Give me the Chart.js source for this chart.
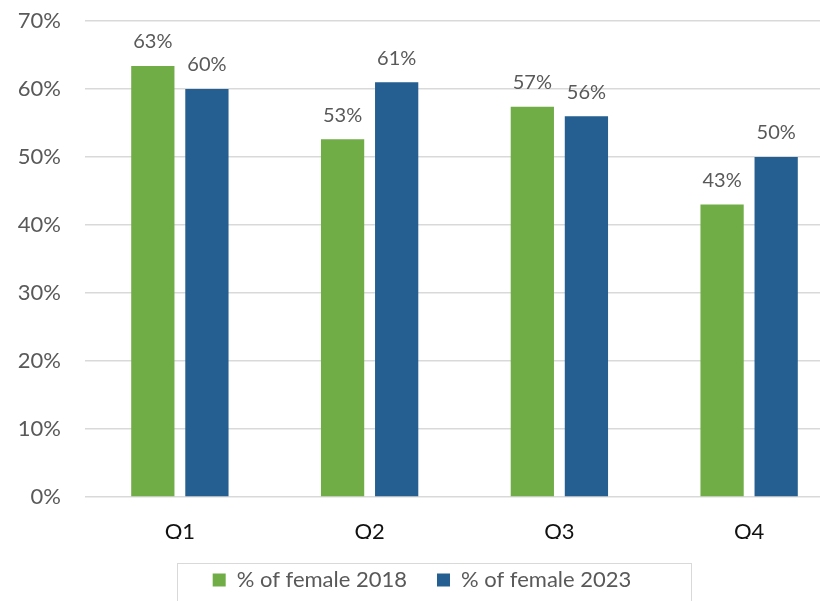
<!DOCTYPE html>
<html>
<head>
<meta charset="utf-8">
<script src="https://cdn.jsdelivr.net/npm/chart.js@4/dist/chart.umd.min.js"></script>
<style>
  html, body { margin: 0; padding: 0; background: #fff; overflow: hidden; }
  /* the original plot runs past the right edge of the picture */
  #wrap { width: 820px; height: 601px; overflow: hidden; }
</style>
</head>
<body>
<div id="wrap"><canvas id="chart" width="860" height="601"></canvas></div>
<script>
// data
const quarters = ["Q1", "Q2", "Q3", "Q4"];
const female2018 = [63.4, 52.6, 57.4, 43];
const female2023 = [60, 61, 56, 50];
const yTicks = [0, 10, 20, 30, 40, 50, 60, 70];

const TEXT = "#595959";
const FONT = "Lato, 'Open Sans', sans-serif";

// labels above each bar
const barLabels = {
    id: "barLabels",
    afterDatasetsDraw(chart){
        const ctx = chart.ctx;
        ctx.save();
        ctx.font = "20px " + FONT;
        ctx.fillStyle = TEXT;
        ctx.textAlign = "center";
        ctx.textBaseline = "middle";
        chart.data.datasets.forEach((ds, i) => {
            chart.getDatasetMeta(i).data.forEach((el, j) => {
                ctx.fillText(Math.round(ds.data[j]) + "%", el.x, el.y - 24);
            });
        });
        ctx.restore();
    }
};

// thin frame round the legend
const legendFrame = {
    id: "legendFrame",
    afterDraw(chart){
        const boxes = chart.legend.legendHitBoxes;
        if(!boxes || !boxes.length) return;
        const first = boxes[0], last = boxes[boxes.length - 1];
        const ctx = chart.ctx;
        ctx.save();
        ctx.strokeStyle = "#d9d9d9";
        ctx.lineWidth = 1;
        const left = Math.round(first.left - 36), right = Math.round(last.left + last.width + 60);
        ctx.strokeRect(left + 0.5, 563.5, right - left, 80);
        ctx.restore();
    }
};

new Chart(document.getElementById("chart"), {
    type: "bar",
    data: {
        labels: quarters,
        datasets: [
            { label: "% of female 2018", data: female2018, backgroundColor: "#70AD47" },
            { label: "% of female 2023", data: female2023, backgroundColor: "#255E91" }
        ]
    },
    options: {
        responsive: false,
        animation: false,
        layout: { padding: { top: 21, right: 16, bottom: 0, left: 0 } },
        datasets: { bar: { barPercentage: 0.8, categoryPercentage: 0.57 } },
        scales: {
            x: {
                grid: { display: false, drawTicks: false },
                border: { display: false },
                ticks: { color: "#111", font: { family: FONT, size: 22 }, padding: 22 },
                afterFit(s){ s.height = 42; }
            },
            y: {
                min: 0, max: 70,
                afterFit(s){
                    s.width = 85;
                    // no extra room above/below; the layout padding handles it
                    s.paddingTop = 0;
                    s.paddingBottom = 0;
                },
                afterBuildTicks(s){ s.ticks = yTicks.map(v => ({ value: v })); },
                grid: { color: "#d9d9d9", lineWidth: 1.5, drawTicks: false },
                border: { display: false },
                ticks: {
                    color: TEXT,
                    font: { family: FONT, size: 22 },
                    padding: 24,
                    callback: v => v + "%"
                }
            }
        },
        plugins: {
            legend: {
                position: "bottom",
                labels: {
                    color: TEXT,
                    font: { family: FONT, size: 22 },
                    boxWidth: 13,
                    boxHeight: 13,
                    padding: 30
                }
            },
            tooltip: { enabled: false }
        }
    },
    plugins: [barLabels, legendFrame]
});
</script>
</body>
</html>
